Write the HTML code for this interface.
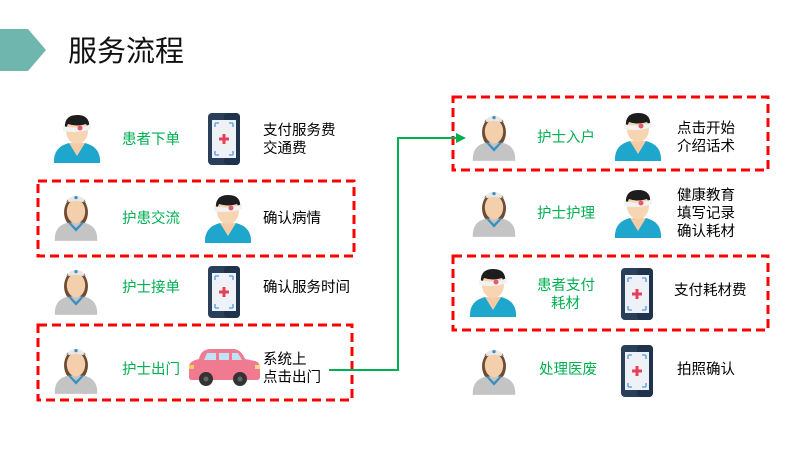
<!DOCTYPE html>
<html><head><meta charset="utf-8"><style>
html,body{margin:0;padding:0;background:#fff;}
svg{display:block;font-family:"Liberation Sans","Noto Sans CJK SC",sans-serif;}
.g{fill:#00b050;font-size:14.5px;}
.k{fill:#000;font-size:14.5px;}
.box{fill:none;stroke:#ff0000;stroke-width:3;stroke-dasharray:9 5;}
</style></head><body>
<svg width="800" height="450" viewBox="0 0 800 450" xmlns="http://www.w3.org/2000/svg">
<defs>
<symbol id="pat" viewBox="0 0 50 52">
<path d="M2 51 Q1 35 17 31 L33 31 Q49 35 48 51 Z" fill="#1ea6cc"/>
<path d="M17 31 L25 44 L33 31 Z" fill="#f5cba6"/>
<ellipse cx="25" cy="19" rx="11" ry="13" fill="#f7d4b2"/>
<path d="M13 19 Q11 3 25 3 Q39 3 37 17 L34 12 Q25 15 16 12 Z" fill="#1d1d1d"/>
<path d="M11 14 Q25 18 39 12 L39 17 Q25 22 11 19 Z" fill="#f2f2f2"/>
<circle cx="28" cy="16" r="2.5" fill="#e45a6a"/>
</symbol>
<symbol id="nur" viewBox="0 0 50 56">
<ellipse cx="25" cy="24" rx="13" ry="17" fill="#6e4b33"/>
<path d="M2 55 Q1 38 17 35 L33 35 Q49 38 48 55 Z" fill="#c4c4c4"/>
<path d="M16 35 L25 45 L34 35 L31 35 L25 41 L19 35 Z" fill="#3a8fc0"/>
<ellipse cx="25" cy="23" rx="10" ry="13" fill="#f3d0ab"/>
<path d="M14 13 Q25 2 36 13 L34 10 Q25 6 16 10 Z" fill="#6e4b33"/>
<path d="M16 10 Q25 2 34 10 L33 13 Q25 10 17 13 Z" fill="#e8e8e8"/>
<circle cx="25" cy="8" r="1.8" fill="#3a8fc0"/>
</symbol>
<symbol id="ph" viewBox="0 0 32 52">
<rect x="0" y="0" width="32" height="52" rx="4" fill="#2a3f5a"/>
<rect x="16" y="0" width="16" height="52" rx="4" fill="#1f334c"/>
<rect x="4" y="7" width="24" height="38" fill="#eef2f7"/>
<path d="M7 10h4M7 10v4M25 10h-4M25 10v4M7 42h4M7 42v-4M25 42h-4M25 42v-4" stroke="#6aa8e8" stroke-width="1.6" fill="none"/>
<path d="M16 21v10M11 26h10" stroke="#e4405a" stroke-width="3"/>
</symbol>
</defs>
<polygon points="0,29 28,29 46,50 28,71 0,71" fill="#6fb7ae"/>
<text x="68" y="61" font-size="29" fill="#111">服务流程</text>

<rect class="box" x="38" y="181" width="316" height="75"/>
<rect class="box" x="38" y="325" width="314" height="75"/>
<rect class="box" x="453" y="97" width="315" height="73"/>
<rect class="box" x="453" y="256" width="315" height="74"/>

<use href="#pat" x="52" y="112" width="50" height="52"/>
<text class="g" x="122" y="144">患者下单</text>
<use href="#ph" x="208" y="113" width="32" height="52"/>
<text class="k" x="263" y="135">支付服务费</text><text class="k" x="263" y="153">交通费</text>

<use href="#nur" x="53" y="189" width="46" height="54"/>
<text class="g" x="122" y="223">护患交流</text>
<use href="#pat" x="203" y="192" width="50" height="52"/>
<text class="k" x="263" y="223">确认病情</text>

<use href="#nur" x="53" y="263" width="46" height="54"/>
<text class="g" x="122" y="292">护士接单</text>
<use href="#ph" x="208" y="266" width="32" height="52"/>
<text class="k" x="263" y="292">确认服务时间</text>

<use href="#nur" x="53" y="342" width="46" height="54"/>
<text class="g" x="122" y="374">护士出门</text>
<g transform="translate(189,347)">
<path d="M10 12 Q12 2 22 2 L44 2 Q52 2 56 12 L66 14 Q71 15 71 22 L71 30 Q71 33 67 33 L3 33 Q0 33 0 30 L0 20 Q0 14 10 12 Z" fill="#f07a90"/>
<path d="M18 6 L27 6 L27 13 L15 13 Z M30 6 L40 6 L40 13 L30 13 Z M43 6 L49 6 L53 13 L43 13 Z" fill="#bfe3f5"/>
<rect x="0" y="18" width="5" height="4" fill="#f7c85a"/><rect x="66" y="18" width="5" height="4" fill="#f7d98a"/>
<circle cx="17" cy="32" r="7" fill="#333"/><circle cx="17" cy="32" r="2.5" fill="#666"/>
<circle cx="51" cy="32" r="7" fill="#333"/><circle cx="51" cy="32" r="2.5" fill="#666"/>
</g>
<text class="k" x="263" y="364">系统上</text><text class="k" x="263" y="382">点击出门</text>

<polyline points="329,370 398,370 398,138 458,138" fill="none" stroke="#00b050" stroke-width="2"/>
<polygon points="466,138 456,133 456,143" fill="#00b050"/>

<use href="#nur" x="471" y="109" width="46" height="54"/>
<text class="g" x="537" y="142">护士入户</text>
<use href="#pat" x="613" y="110" width="50" height="52"/>
<text class="k" x="677" y="133">点击开始</text><text class="k" x="677" y="151">介绍话术</text>

<use href="#nur" x="471" y="185" width="46" height="54"/>
<text class="g" x="537" y="218">护士护理</text>
<use href="#pat" x="613" y="187" width="50" height="52"/>
<text class="k" x="677" y="200">健康教育</text><text class="k" x="677" y="218">填写记录</text><text class="k" x="677" y="236">确认耗材</text>

<use href="#pat" x="468" y="266" width="50" height="52"/>
<text class="g" x="537" y="290">患者支付</text><text class="g" x="551" y="308">耗材</text>
<use href="#ph" x="621" y="268" width="32" height="52"/>
<text class="k" x="674" y="295">支付耗材费</text>

<use href="#nur" x="471" y="343" width="46" height="54"/>
<text class="g" x="539" y="374">处理医废</text>
<use href="#ph" x="621" y="345" width="32" height="52"/>
<text class="k" x="677" y="374">拍照确认</text>
</svg>
</body></html>
